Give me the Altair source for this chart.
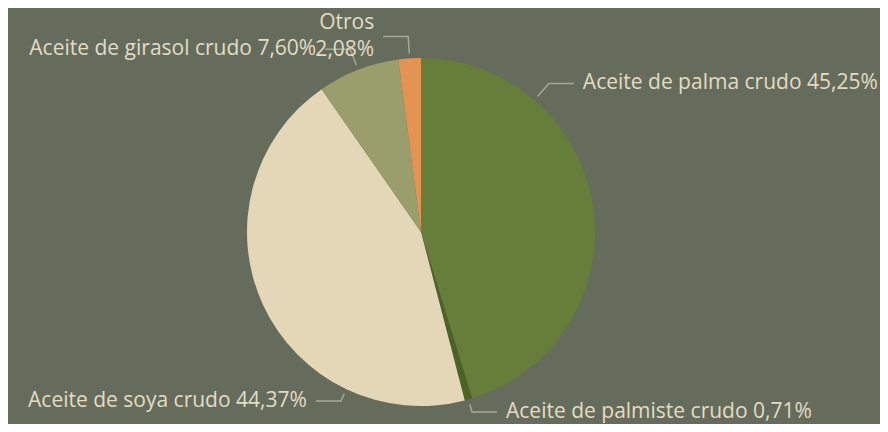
import math
import altair as alt
import pandas as pd

# ---- data ----
categories = [
    "Aceite de palma crudo",
    "Aceite de palmiste crudo",
    "Aceite de soya crudo",
    "Aceite de girasol crudo",
    "Otros",
]
shares = [45.25, 0.71, 44.37, 7.60, 2.08]
colors = ["#667E3A", "#4B6426", "#E4D7B8", "#9A9D6C", "#E39452"]
wrap_label = [False, False, False, False, True]

# ---- layout constants (pixels) ----
W, H = 872, 416
CX, CY, R = 413, 224, 174
BG = "#656C5C"
TXT = "#E2DCC3"
LEAD = "#A6A995"
FONT = "Open Sans"
FS = 21
LH = 27

total = sum(shares)
rows, lines, labels = [], [], []
cum = 0.0
for i, (c, v) in enumerate(zip(categories, shares)):
    frac = v / total
    start, end = cum, cum + frac
    cum = end
    # anchor: large slices use the first quarter of the slice, small ones the middle
    pos = 0.25 if frac > 0.4 else 0.5
    a = 2 * math.pi * (start + pos * frac)
    s, co = math.sin(a), -math.cos(a)
    side = 1 if s > 0 else -1
    elbow = R + (13 if co > 0.9 else 22)
    p0 = (CX + (R + 5) * s, CY + (R + 5) * co)
    p1 = (CX + elbow * s, CY + elbow * co)
    p2 = (p1[0] + side * 25, p1[1])
    for k, p in enumerate([p0, p1, p2]):
        lines.append({"cat": c, "k": k, "x": p[0], "y": p[1]})
    pct = f"{v:.2f}".replace(".", ",") + "%"
    txt = f"{c}\n{pct}" if wrap_label[i] else f"{c} {pct}"
    ty = p2[1] - (LH / 2 if wrap_label[i] else 0)
    labels.append({"cat": c, "x": p2[0] + side * 9, "y": ty, "text": txt,
                   "side": "right" if side > 0 else "left"})
    rows.append({"cat": c, "value": v, "order": i})

df = pd.DataFrame(rows)
ldf = pd.DataFrame(lines)
tdf = pd.DataFrame(labels)

xs = alt.Scale(domain=[0, W], range=[0, W])
ys = alt.Scale(domain=[0, H], range=[0, H])

pie = alt.Chart(df).mark_arc(x=CX, y=CY, outerRadius=R, stroke=None).encode(
    theta=alt.Theta("value:Q", stack=True),
    color=alt.Color("cat:N", scale=alt.Scale(domain=categories, range=colors), legend=None),
    order=alt.Order("order:Q"),
)

leaders = alt.Chart(ldf).mark_line(color=LEAD, strokeWidth=1.5).encode(
    x=alt.X("x:Q", scale=xs, axis=None),
    y=alt.Y("y:Q", scale=ys, axis=None),
    detail="cat:N",
    order="k:Q",
)

def text_layer(side, align):
    return alt.Chart(tdf[tdf.side == side]).mark_text(
        align=align, baseline="middle", font=FONT, fontSize=FS, color=TXT,
        lineBreak="\n", lineHeight=LH,
    ).encode(
        x=alt.X("x:Q", scale=xs, axis=None),
        y=alt.Y("y:Q", scale=ys, axis=None),
        text="text:N",
    )

chart = alt.layer(pie, leaders, text_layer("right", "left"), text_layer("left", "right")).properties(
    width=W, height=H, background=BG, padding=0,
    autosize=alt.AutoSizeParams(type="none"),
).configure_view(stroke=None)

chart.save("out.html", embed_options={"renderer": "svg", "actions": False})
